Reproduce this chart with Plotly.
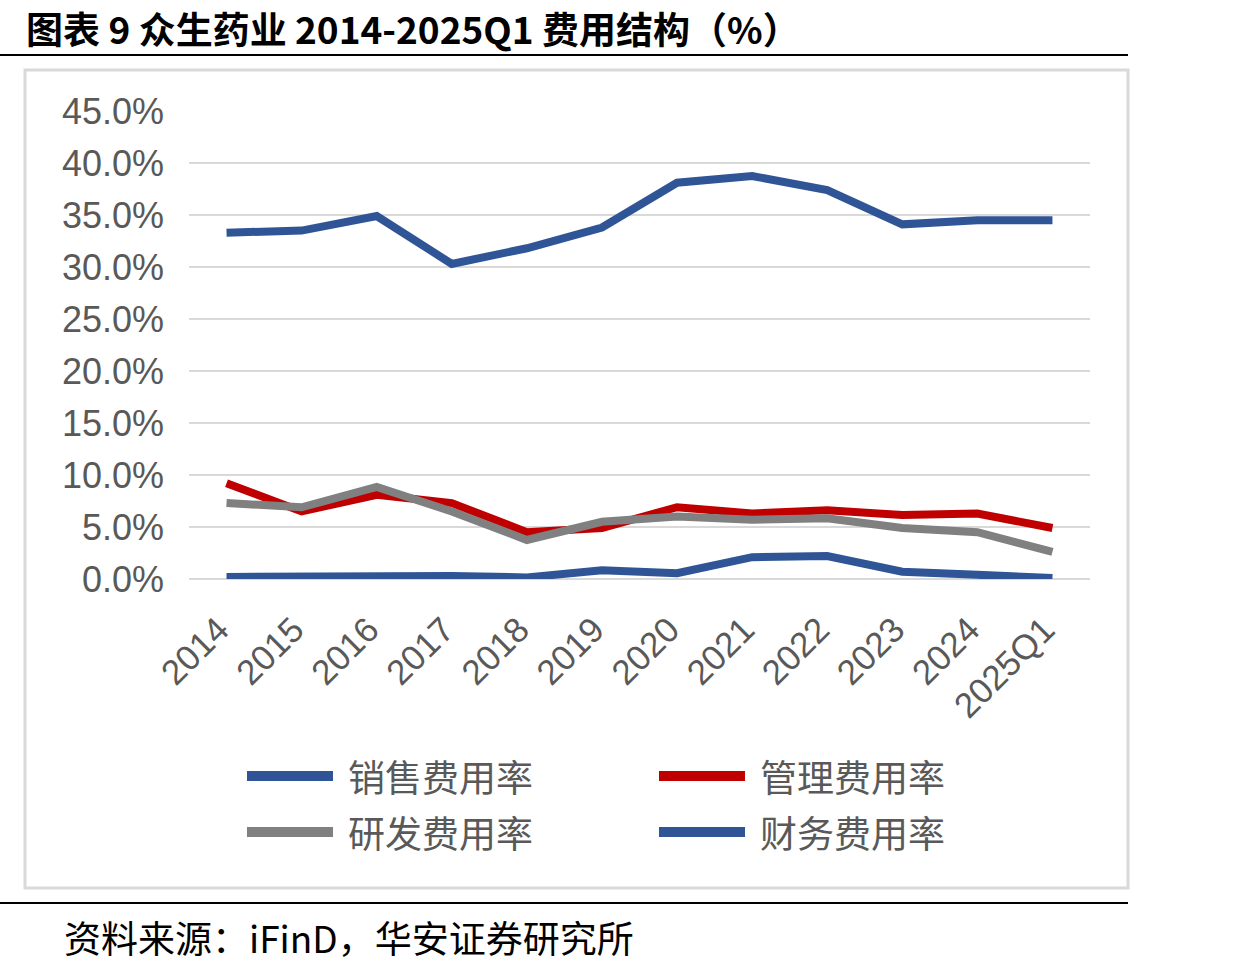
import plotly.graph_objects as go

W, H = 1260, 970

categories = ["2014", "2015", "2016", "2017", "2018", "2019", "2020", "2021", "2022", "2023", "2024", "2025Q1"]
sales_rate = [33.3, 33.5, 34.9, 30.3, 31.8, 33.8, 38.1, 38.75, 37.4, 34.1, 34.5, 34.5]
mgmt_rate = [9.2, 6.5, 8.1, 7.3, 4.5, 4.9, 6.9, 6.3, 6.6, 6.15, 6.3, 4.9]
rd_rate = [7.3, 6.9, 8.85, 6.5, 3.75, 5.5, 6.0, 5.7, 5.85, 4.9, 4.5, 2.6]
fin_rate = [0.2, 0.25, 0.3, 0.3, 0.15, 0.85, 0.55, 2.1, 2.2, 0.7, 0.4, 0.1]

series_names = ["销售费用率", "管理费用率", "研发费用率", "财务费用率"]
series_values = [sales_rate, mgmt_rate, rd_rate, fin_rate]
series_colors = ["#2F5597", "#C00000", "#808080", "#2F5597"]

title_text = "图表 9 众生药业 2014-2025Q1 费用结构（%）"
source_text = "资料来源：iFinD，华安证券研究所"

CJK = "Noto Sans CJK SC"
LAT = "Liberation Sans, Arial"


def px(x):
    return x / W


def py(y):
    return 1 - y / H


fig = go.Figure()
for name, vals, col in zip(series_names, series_values, series_colors):
    fig.add_trace(go.Scatter(x=categories, y=vals, name=name, mode="lines",
                             line=dict(color=col, width=8), showlegend=False))

shapes = []
annotations = []

# title, rules and chart frame
annotations.append(dict(x=px(24), y=py(28), xref="paper", yref="paper", xanchor="left", yanchor="middle",
                        text="<b>" + title_text + "</b>", showarrow=False,
                        font=dict(family=CJK, size=37, color="#000000")))
shapes.append(dict(type="line", xref="paper", yref="paper", x0=0, x1=px(1128), y0=py(55), y1=py(55),
                   line=dict(color="#000000", width=2)))
shapes.append(dict(type="rect", xref="paper", yref="paper", x0=px(25), x1=px(1128), y0=py(70), y1=py(888),
                   line=dict(color="#D9D9D9", width=3)))
shapes.append(dict(type="line", xref="paper", yref="paper", x0=0, x1=px(1128), y0=py(903), y1=py(903),
                   line=dict(color="#000000", width=2)))
annotations.append(dict(x=px(62), y=py(937), xref="paper", yref="paper", xanchor="left", yanchor="middle",
                        text=source_text, showarrow=False,
                        font=dict(family=CJK, size=37, color="#000000")))

# manual legend (2 columns)
legend_pos = [(247, 776), (659, 776), (247, 832), (659, 832)]
for (lx, ly), name, col in zip(legend_pos, series_names, series_colors):
    shapes.append(dict(type="line", xref="paper", yref="paper", x0=px(lx), x1=px(lx + 86),
                       y0=py(ly), y1=py(ly), line=dict(color=col, width=10)))
    annotations.append(dict(x=px(lx + 99), y=py(ly), xref="paper", yref="paper", xanchor="left",
                            yanchor="middle", text=name, showarrow=False,
                            font=dict(family=CJK, size=37, color="#595959")))

fig.update_layout(
    width=W, height=H,
    margin=dict(l=0, r=0, t=0, b=0, autoexpand=False),
    paper_bgcolor="white", plot_bgcolor="white",
    shapes=shapes, annotations=annotations,
    xaxis=dict(domain=[px(189), px(1090)], range=[-0.5, len(categories) - 0.5], showgrid=False,
               showline=False, ticks="", automargin=False, ticklabelstandoff=22, ticklabelshift=-8,
               tickangle=-45, tickfont=dict(family=LAT, size=35, color="#595959"), zeroline=False),
    yaxis=dict(domain=[py(579), py(111)], range=[0, 45], dtick=5, tickformat=".1f", ticksuffix="%",
               automargin=False,
               showgrid=True, gridcolor="#D9D9D9", gridwidth=2, zeroline=True, zerolinecolor="#D9D9D9",
               zerolinewidth=2, showline=False, ticks="", ticklabelstandoff=24,
               tickfont=dict(family=LAT, size=36, color="#595959")),
)

fig.write_html("out.html")
